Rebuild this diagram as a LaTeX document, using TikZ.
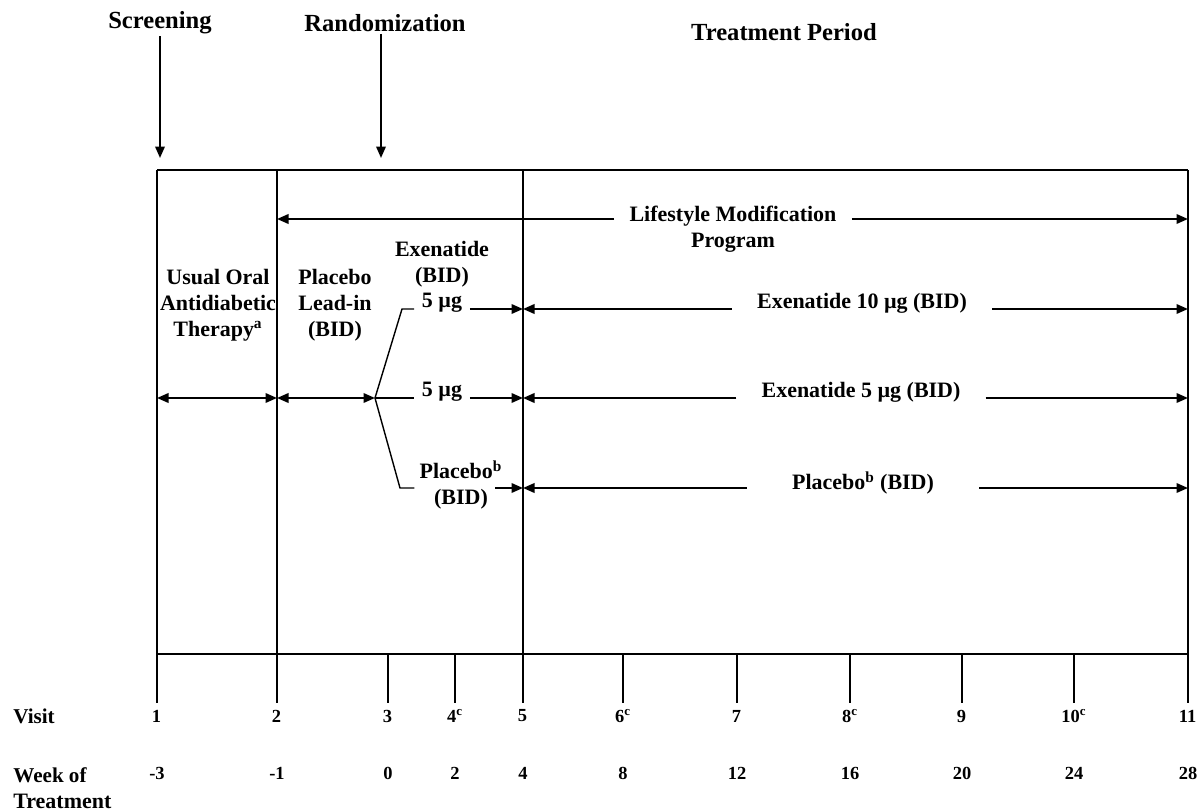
\documentclass[tikz,border=0pt]{standalone}
\usepackage{fontspec}
\setmainfont{Liberation Serif}
\usetikzlibrary{arrows.meta, positioning, calc}
\tikzset{
	header/.style={font=\fontsize{14}{16}\selectfont\bfseries, inner sep=1pt},
	txt/.style={font=\fontsize{12.5}{14.7}\selectfont\bfseries, align=center, inner sep=0pt},
	num/.style={font=\fontsize{10.5}{12}\selectfont\bfseries, inner sep=0pt},
	frame/.style={line width=0.8pt},
	tick/.style={line width=1pt},
	branch/.style={line width=0.8pt},
	transfer/.style={line width=1.1pt, -{Triangle[length=2.3mm,width=1.9mm]}},
	both/.style={line width=1.1pt, {Triangle[length=2.3mm,width=1.9mm]}-{Triangle[length=2.3mm,width=1.9mm]}}
}

\begin{document}
\begin{tikzpicture}[x=0.2mm, y=-0.2mm]
	\useasboundingbox (0,0) rectangle (1202,812);

	% Headers
	\node (scr) [header] at (160,23) {Screening};
	\node (rnd) [header] at (385,23) {Randomization};
	\node (tp) [header] at (784,32) {Treatment Period};
	\coordinate (scrT) at (160,158);
	\coordinate (rndT) at (381,158);
	\draw[transfer] (scr.south -| scrT) -- (scrT);
	\draw[transfer] (rnd.south -| rndT) -- (rndT);

	% Visits and weeks
	\foreach \n/\x/\w/\s in {1/157/-3/, 2/277/-1/, 3/388/0/, 4/455/2/c, 5/523/4/, 6/623/8/c,
		7/737/12/, 8/850/16/c, 9/962/20/, 10/1074/24/c, 11/1188/28/} {
		\coordinate (top\n) at (\x,170);
		\coordinate (bot\n) at (\x,654);
		\node (v\n) [num] at (\x,716) {\n\textsuperscript{\s}};
		\node (w\n) [num] at (\x,773) {\w};
	}
	\node (visit) [txt, anchor=west] at (13,716) {\fontsize{12}{14}\selectfont Visit};
	\node (week) [txt, anchor=west, align=left] at (13,788) {\fontsize{12}{14.5}\selectfont Week of\\Treatment};

	% Frame
	\draw[frame] (top1) -- (top11);
	\draw[frame] (bot1) -- (bot11);
	\foreach \n in {1,2,5,11}
		\draw[frame] (top\n) -- ++(0,533);
	\foreach \n in {3,4,6,7,8,9,10}
		\draw[tick] (bot\n) -- ++(0,49);

	% Rows
	\coordinate (rLS) at (0,219);
	\coordinate (rA) at (0,309);
	\coordinate (rB) at (0,398);
	\coordinate (rC) at (0,488);

	% Lifestyle
	\node (lsm) [txt, inner xsep=3mm] at (733,229) {Lifestyle Modification\\Program};
	\draw[transfer] (lsm.west |- rLS) -- (top2 |- rLS);
	\draw[transfer] (lsm.east |- rLS) -- (top11 |- rLS);

	% Lead-in
	\node (uoat) [txt] at (218,305) {Usual Oral\\Antidiabetic\\Therapy\textsuperscript{a}};
	\node (pli) [txt] at (335,305) {Placebo\\Lead-in\\(BID)};
	\node (exb) [txt] at (442,264) {Exenatide\\(BID)};
	\coordinate (br) at (375,398);
	\draw[both] (top1 |- rB) -- (top2 |- rB);
	\draw[both] (top2 |- rB) -- (br);

	% Branches
	\node (d5a) [txt, inner xsep=1.5mm] at (442,303) {5 µg};
	\node (d5b) [txt, inner xsep=1.5mm] at (442,392) {5 µg};
	\node (plb) [txt, inner xsep=1mm] at (461,485) {Placebo\textsuperscript{b}\\(BID)};
	\coordinate (kA) at (402,309);
	\coordinate (kC) at (400,488);
	\coordinate (pC) at (495,488);
	\draw[branch] (br) -- (kA) -- (d5a.west |- rA);
	\draw[branch] (br) -- (d5b.west |- rB);
	\draw[branch] (br) -- (kC) -- (plb.west |- rC);
	\draw[transfer] (d5a.east |- rA) -- (top5 |- rA);
	\draw[transfer] (d5b.east |- rB) -- (top5 |- rB);
	\draw[transfer] (pC) -- (top5 |- rC);

	% Treatment arms
	\node (ex10) [txt, inner xsep=5mm] at (862,303) {Exenatide 10 µg (BID)};
	\node (ex5) [txt, inner xsep=5mm] at (861,392) {Exenatide 5 µg (BID)};
	\node (plr) [txt, inner xsep=9mm] at (863,483) {Placebo\textsuperscript{b} (BID)};
	\draw[transfer] (ex10.west |- rA) -- (top5 |- rA);
	\draw[transfer] (ex10.east |- rA) -- (top11 |- rA);
	\draw[transfer] (ex5.west |- rB) -- (top5 |- rB);
	\draw[transfer] (ex5.east |- rB) -- (top11 |- rB);
	\draw[transfer] (plr.west |- rC) -- (top5 |- rC);
	\draw[transfer] (plr.east |- rC) -- (top11 |- rC);
\end{tikzpicture}
\end{document}
